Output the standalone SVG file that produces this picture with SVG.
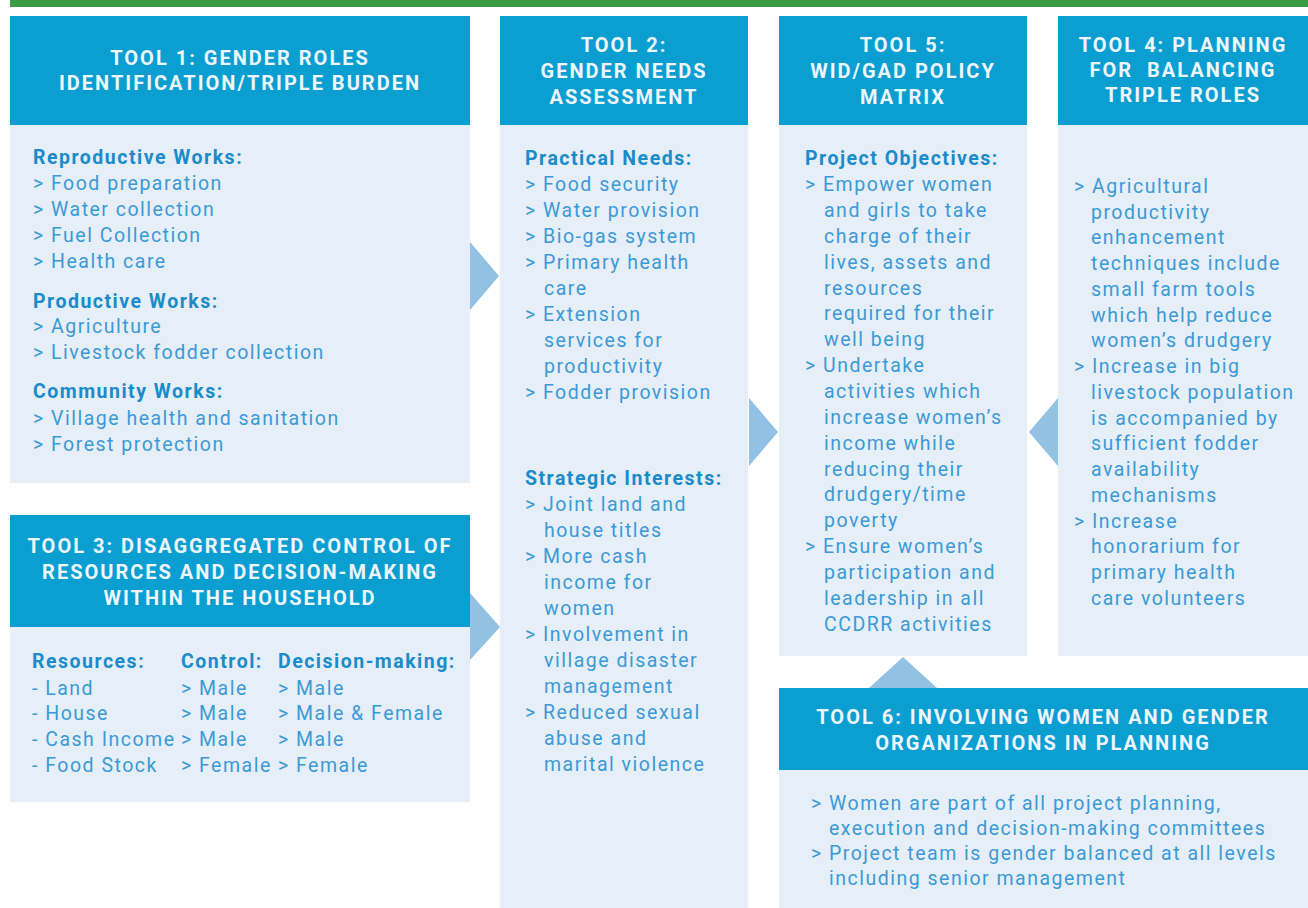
<svg xmlns="http://www.w3.org/2000/svg" width="1308" height="908" viewBox="0 0 1308 908">
<style>
.hd{fill:#0a9ed1}
.bd{fill:#e6eef7}
.ar{fill:#92c1e4}
.ht{font-family:Roboto,"Liberation Sans",sans-serif;font-weight:700;font-size:20px;letter-spacing:2px;fill:#eef6fb;text-anchor:middle}
.t{font-family:Roboto,"Liberation Sans",sans-serif;font-size:19.5px;letter-spacing:1.5px;fill:#3b9ad6}
.b{font-family:Roboto,"Liberation Sans",sans-serif;font-size:19.5px;letter-spacing:1.5px;font-weight:700;fill:#1a8bcb}
</style>
<rect x="10" y="0" width="1298" height="7" fill="#3a9d46"/>

<g id="tool1">
<rect class="bd" x="10" y="16" width="460" height="467"/>
<rect class="hd" x="10" y="16" width="460" height="109"/>
<text class="ht" x="240" y="65">TOOL 1: GENDER ROLES</text>
<text class="ht" x="240" y="90">IDENTIFICATION/TRIPLE BURDEN</text>
<text class="b" x="33" y="164">Reproductive Works:</text>
<text class="t" x="33" y="190">&gt; Food preparation</text>
<text class="t" x="33" y="216">&gt; Water collection</text>
<text class="t" x="33" y="242">&gt; Fuel Collection</text>
<text class="t" x="33" y="268">&gt; Health care</text>
<text class="b" x="33" y="308">Productive Works:</text>
<text class="t" x="33" y="333">&gt; Agriculture</text>
<text class="t" x="33" y="359">&gt; Livestock fodder collection</text>
<text class="b" x="33" y="398">Community Works:</text>
<text class="t" x="33" y="425">&gt; Village health and sanitation</text>
<text class="t" x="33" y="451">&gt; Forest protection</text>
</g>

<g id="tool3">
<rect class="bd" x="10" y="515" width="460" height="287"/>
<rect class="hd" x="10" y="515" width="460" height="112"/>
<text class="ht" x="240" y="553">TOOL 3: DISAGGREGATED CONTROL OF</text>
<text class="ht" x="240" y="579">RESOURCES AND DECISION-MAKING</text>
<text class="ht" x="240" y="605">WITHIN THE HOUSEHOLD</text>
<text class="b" x="32" y="668">Resources:</text>
<text class="b" x="181" y="668">Control:</text>
<text class="b" x="278" y="668">Decision-making:</text>
<text class="t" x="32" y="695">- Land</text>
<text class="t" x="32" y="720">- House</text>
<text class="t" x="32" y="746">- Cash Income</text>
<text class="t" x="32" y="772">- Food Stock</text>
<text class="t" x="181" y="695">&gt; Male</text>
<text class="t" x="181" y="720">&gt; Male</text>
<text class="t" x="181" y="746">&gt; Male</text>
<text class="t" x="181" y="772">&gt; Female</text>
<text class="t" x="278" y="695">&gt; Male</text>
<text class="t" x="278" y="720">&gt; Male &amp; Female</text>
<text class="t" x="278" y="746">&gt; Male</text>
<text class="t" x="278" y="772">&gt; Female</text>
</g>

<g id="tool2">
<rect class="bd" x="500" y="16" width="248" height="892"/>
<rect class="hd" x="500" y="16" width="248" height="109"/>
<text class="ht" x="624" y="52">TOOL 2:</text>
<text class="ht" x="624" y="78">GENDER NEEDS</text>
<text class="ht" x="624" y="104">ASSESSMENT</text>
<text class="b" x="525" y="165">Practical Needs:</text>
<text class="t" x="525" y="191">&gt; Food security</text>
<text class="t" x="525" y="217">&gt; Water provision</text>
<text class="t" x="525" y="243">&gt; Bio-gas system</text>
<text class="t" x="525" y="269">&gt; Primary health</text>
<text class="t" x="544" y="295">care</text>
<text class="t" x="525" y="321">&gt; Extension</text>
<text class="t" x="544" y="347">services for</text>
<text class="t" x="544" y="373">productivity</text>
<text class="t" x="525" y="399">&gt; Fodder provision</text>
<text class="b" x="525" y="485">Strategic Interests:</text>
<text class="t" x="525" y="511">&gt; Joint land and</text>
<text class="t" x="544" y="537">house titles</text>
<text class="t" x="525" y="563">&gt; More cash</text>
<text class="t" x="544" y="589">income for</text>
<text class="t" x="544" y="615">women</text>
<text class="t" x="525" y="641">&gt; Involvement in</text>
<text class="t" x="544" y="667">village disaster</text>
<text class="t" x="544" y="693">management</text>
<text class="t" x="525" y="719">&gt; Reduced sexual</text>
<text class="t" x="544" y="745">abuse and</text>
<text class="t" x="544" y="771">marital violence</text>
</g>

<g id="tool5">
<rect class="bd" x="779" y="16" width="248" height="640"/>
<rect class="hd" x="779" y="16" width="248" height="109"/>
<text class="ht" x="903" y="52">TOOL 5:</text>
<text class="ht" x="903" y="78">WID/GAD POLICY</text>
<text class="ht" x="903" y="104">MATRIX</text>
<text class="b" x="805" y="165">Project Objectives:</text>
<text class="t" x="805" y="191">&gt; Empower women</text>
<text class="t" x="824" y="217">and girls to take</text>
<text class="t" x="824" y="243">charge of their</text>
<text class="t" x="824" y="269">lives, assets and</text>
<text class="t" x="824" y="295">resources</text>
<text class="t" x="824" y="320">required for their</text>
<text class="t" x="824" y="346">well being</text>
<text class="t" x="805" y="372">&gt; Undertake</text>
<text class="t" x="824" y="398">activities which</text>
<text class="t" x="824" y="424">increase women’s</text>
<text class="t" x="824" y="450">income while</text>
<text class="t" x="824" y="476">reducing their</text>
<text class="t" x="824" y="501">drudgery/time</text>
<text class="t" x="824" y="527">poverty</text>
<text class="t" x="805" y="553">&gt; Ensure women’s</text>
<text class="t" x="824" y="579">participation and</text>
<text class="t" x="824" y="605">leadership in all</text>
<text class="t" x="824" y="631">CCDRR activities</text>
</g>

<g id="tool4">
<rect class="bd" x="1058" y="16" width="250" height="640"/>
<rect class="hd" x="1058" y="16" width="250" height="109"/>
<text class="ht" x="1183" y="52">TOOL 4: PLANNING</text>
<text class="ht" x="1183" y="77" xml:space="preserve">FOR  BALANCING</text>
<text class="ht" x="1183" y="102">TRIPLE ROLES</text>
<text class="t" x="1074" y="193">&gt; Agricultural</text>
<text class="t" x="1091" y="219">productivity</text>
<text class="t" x="1091" y="244">enhancement</text>
<text class="t" x="1091" y="270">techniques include</text>
<text class="t" x="1091" y="296">small farm tools</text>
<text class="t" x="1091" y="322">which help reduce</text>
<text class="t" x="1091" y="347">women’s drudgery</text>
<text class="t" x="1074" y="373">&gt; Increase in big</text>
<text class="t" x="1091" y="399">livestock population</text>
<text class="t" x="1091" y="425">is accompanied by</text>
<text class="t" x="1091" y="450">sufficient fodder</text>
<text class="t" x="1091" y="476">availability</text>
<text class="t" x="1091" y="502">mechanisms</text>
<text class="t" x="1074" y="528">&gt; Increase</text>
<text class="t" x="1091" y="553">honorarium for</text>
<text class="t" x="1091" y="579">primary health</text>
<text class="t" x="1091" y="605">care volunteers</text>
</g>

<g id="tool6">
<rect class="bd" x="779" y="688" width="529" height="220"/>
<rect class="hd" x="779" y="688" width="529" height="82"/>
<text class="ht" x="1043" y="724">TOOL 6: INVOLVING WOMEN AND GENDER</text>
<text class="ht" x="1043" y="750">ORGANIZATIONS IN PLANNING</text>
<text class="t" x="811" y="810">&gt; Women are part of all project planning,</text>
<text class="t" x="829" y="835">execution and decision-making committees</text>
<text class="t" x="811" y="860">&gt; Project team is gender balanced at all levels</text>
<text class="t" x="829" y="885">including senior management</text>
</g>

<g id="connectors">
<polygon class="ar" points="470,242 499,276 470,310"/>
<polygon class="ar" points="470,593 500,627 470,660"/>
<polygon class="ar" points="749,398 778,432 749,466"/>
<polygon class="ar" points="1058,398 1029,432 1058,466"/>
<polygon class="ar" points="869,688 903,657 937,688"/>
</g>
</svg>
